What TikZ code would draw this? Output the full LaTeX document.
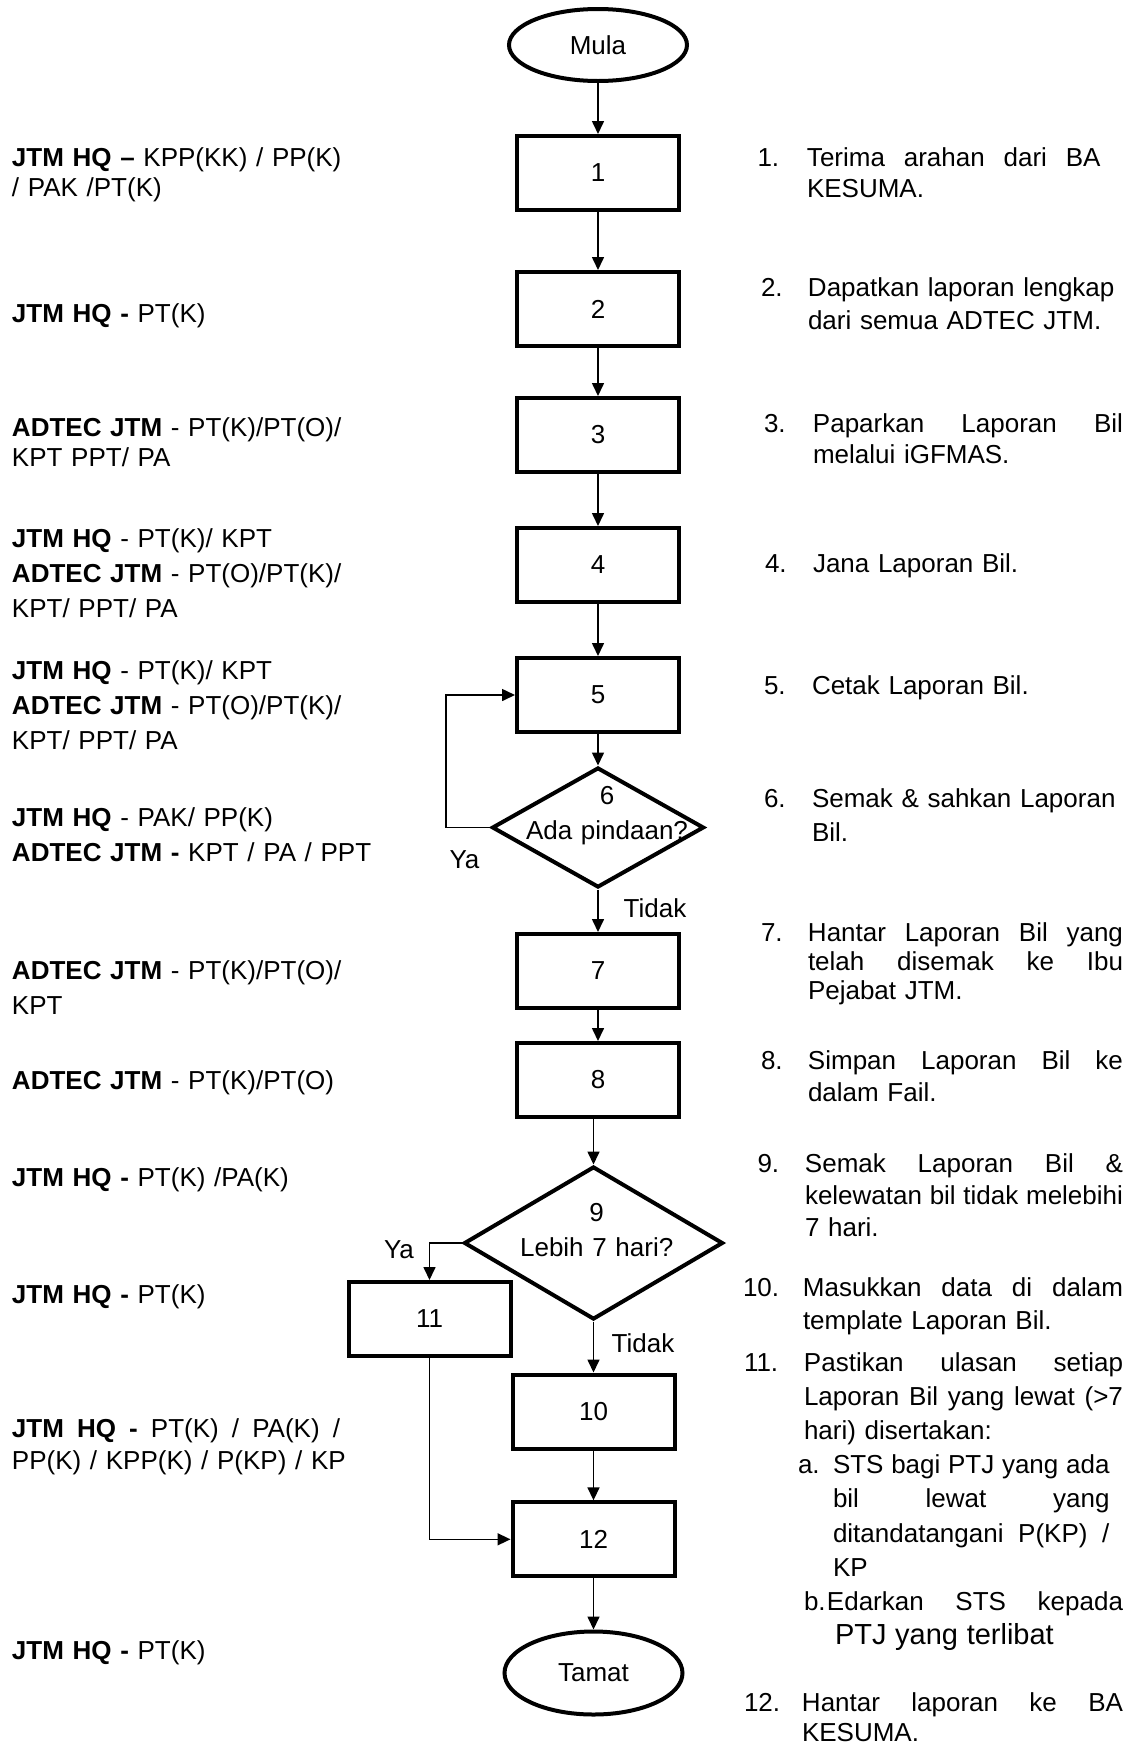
\documentclass[tikz,border=0pt]{standalone}
\usepackage{fontspec}
\setmainfont{Liberation Sans}
\usetikzlibrary{arrows.meta,shapes.geometric}
\newcommand\stepno[2]{\leavevmode\llap{\makebox[#2pt][l]{#1}}}
\newcommand\fullline[1]{\leavevmode\hbox to \linewidth{#1}}
\newcommand\wline[2]{\leavevmode\hbox to #1pt{#2}}
\begin{document}
\begin{tikzpicture}[x=1pt,y=-1pt,
  every node/.style={inner sep=0pt, outer sep=0pt},
  box/.style={draw, line width=4pt, outer sep=2pt, minimum width=162pt, minimum height=74pt, font=\fontsize{26}{31}\selectfont},
  term/.style={draw, ellipse, line width=4pt, outer sep=2pt, minimum width=178pt, font=\fontsize{26}{31}\selectfont},
  dec/.style={draw, diamond, line width=4pt, outer sep=2pt},
  arr/.style={line width=1.6pt, -{Triangle[length=13pt,width=12pt]}},
  lbl/.style={font=\fontsize{26}{31}\selectfont},
  dtext/.style={anchor=base, text width=220pt, align=center, font=\fontsize{26}{35}\selectfont},
  rtext/.style 2 args={anchor=base west, text width=#1pt, align=left, font=\fontsize{26}{#2}\selectfont},
  ltext/.style={anchor=base west, text width=380pt, align=left, font=\fontsize{26}{#1}\selectfont}
]
\path[use as bounding box] (0,0) rectangle (1134,1746);

% flow nodes
\node[term, minimum height=72pt] (mula) at (598,45) {Mula};
\node[box] (b1) at (598,173) {1};
\node[box] (b2) at (598,309) {2};
\node[box] (b3) at (598,435) {3};
\node[box] (b4) at (598,565) {4};
\node[box] (b5) at (598,695) {5};
\node[dec, minimum width=212pt, minimum height=120pt] (d6) at (598,827.5) {};
\node[box] (b7) at (598,971) {7};
\node[box] (b8) at (598,1080) {8};
\node[dec, minimum width=259pt, minimum height=153pt] (d9) at (593.5,1243) {};
\node[box] (b11) at (429.5,1319) {11};
\node[box] (b10) at (593.5,1411.5) {10};
\node[box] (b12) at (593.5,1539.3) {12};
\node[term, minimum height=83pt] (tamat) at (593.5,1673) {Tamat};

\node[dtext] (t6) at (607,804.3) {6\\Ada pindaan?};
\node[dtext] (t9) at (596.7,1221) {9\\Lebih 7 hari?};

% connectors
\draw[arr] (mula) -- (b1);
\draw[arr] (b1) -- (b2);
\draw[arr] (b2) -- (b3);
\draw[arr] (b3) -- (b4);
\draw[arr] (b4) -- (b5);
\draw[arr] (b5) -- (d6);
\draw[arr] (d6.west) -- ++(-44,0) |- (b5.west);
\draw[arr] (d6) -- (b7);
\draw[arr] (b7) -- (b8);
\draw[arr] (b8.south -| d9.north) -- (d9.north);
\draw[arr] (d9.west) -| (b11.north);
\draw[arr] (d9) -- (b10);
\draw[arr] (b10) -- (b12);
\draw[arr] (b11.south) |- (b12.west);
\draw[arr] (b12) -- (tamat);

\node[lbl] (ya6) at (464.5,860) {Ya};
\node[lbl] (tidak6) at (655,908) {Tidak};
\node[lbl] (ya9) at (399,1250) {Ya};
\node[lbl] (tidak9) at (643,1343) {Tidak};

% left column
\node[ltext=30.5] (l1) at (12,166) {\textbf{JTM HQ –} KPP(KK) / PP(K)\\/ PAK /PT(K)};
\node[ltext=31] (l2) at (12,322.3) {\textbf{JTM HQ -} PT(K)};
\node[ltext=30] (l3) at (12,436) {\textbf{ADTEC JTM} - PT(K)/PT(O)/\\KPT PPT/ PA};
\node[ltext=35] (l4) at (12,547.6) {\textbf{JTM HQ} - PT(K)/ KPT\\\textbf{ADTEC JTM} - PT(O)/PT(K)/\\KPT/ PPT/ PA};
\node[ltext=35] (l5) at (12,679.3) {\textbf{JTM HQ} - PT(K)/ KPT\\\textbf{ADTEC JTM} - PT(O)/PT(K)/\\KPT/ PPT/ PA};
\node[ltext=35] (l6) at (12,826) {\textbf{JTM HQ} - PAK/ PP(K)\\\textbf{ADTEC JTM -} KPT / PA / PPT};
\node[ltext=35] (l7) at (12,979.3) {\textbf{ADTEC JTM} - PT(K)/PT(O)/\\KPT};
\node[ltext=31] (l8) at (12,1089.3) {\textbf{ADTEC JTM} - PT(K)/PT(O)};
\node[ltext=31] (l9) at (12,1186) {\textbf{JTM HQ -} PT(K) /PA(K)};
\node[ltext=31] (l10) at (12,1303.3) {\textbf{JTM HQ -} PT(K)};
\node[ltext=32] (l11) at (12,1437.3) {\wline{328}{\textbf{JTM}\hfill\textbf{HQ}\hfill\textbf{-}\hfill PT(K)\hfill /\hfill PA(K)\hfill /}\\PP(K) / KPP(K) / P(KP) / KP};
\node[ltext=31] (l12) at (12,1659.3) {\textbf{JTM HQ -} PT(K)};

% right column
\node[rtext={293.6}{31.6}] (r1) at (807,166) {\stepno{1.}{49.5}\fullline{Terima\hfill arahan\hfill dari\hfill BA}\\KESUMA.};
\node[rtext={315}{33.3}] (r2) at (808,296) {\stepno{2.}{47}Dapatkan laporan lengkap\\dari semua ADTEC JTM.};
\node[rtext={310}{31}] (r3) at (813,432.3) {\stepno{3.}{49}\fullline{Paparkan\hfill Laporan\hfill Bil}\\melalui iGFMAS.};
\node[rtext={310}{31}] (r4) at (813,572.6) {\stepno{4.}{48}Jana Laporan Bil.};
\node[rtext={311}{31}] (r5) at (812,694.3) {\stepno{5.}{48}Cetak Laporan Bil.};
\node[rtext={311}{33.4}] (r6) at (812,807.6) {\stepno{6.}{48}Semak \& sahkan Laporan\\Bil.};
\node[rtext={315}{29.2}] (r7) at (808,941) {\stepno{7.}{47}\fullline{Hantar\hfill Laporan\hfill Bil\hfill yang}\\\fullline{telah\hfill disemak\hfill ke\hfill Ibu}\\Pejabat JTM.};
\node[rtext={315}{31.7}] (r8) at (808,1069.3) {\stepno{8.}{47}\fullline{Simpan\hfill Laporan\hfill Bil\hfill ke}\\dalam Fail.};
\node[rtext={318}{31.7}] (r9) at (805,1172.6) {\stepno{9.}{47.5}\fullline{Semak\hfill Laporan\hfill Bil\hfill \&}\\\fullline{kelewatan\hfill bil\hfill tidak\hfill melebihi}\\7 hari.};
\node[rtext={320}{33.3}] (r10) at (803,1296) {\stepno{10.}{60}\fullline{Masukkan\hfill data\hfill di\hfill dalam}\\template Laporan Bil.};
\node[rtext={319}{34.2}] (r11) at (804,1371) {\stepno{11.}{60}\fullline{Pastikan\hfill ulasan\hfill setiap}\\\fullline{Laporan\hfill Bil\hfill yang\hfill lewat\hfill (>7}\\hari) disertakan:\\\hspace*{-6pt}\makebox[35pt][l]{a.}\wline{276.5}{STS\hfill bagi\hfill PTJ\hfill yang\hfill ada}\\\hspace*{29pt}\wline{276.5}{bil\hfill lewat\hfill yang}\\\hspace*{29pt}\wline{276.5}{ditandatangani\hfill P(KP)\hfill /}\\\hspace*{29pt}KP\\\makebox[23pt][l]{b.}\wline{296}{Edarkan\hfill STS\hfill kepada}\\\hspace*{31pt}{\fontsize{29}{34.2}\selectfont PTJ yang terlibat}};
\node[rtext={321}{30}] (r12) at (802,1711) {\stepno{12.}{58}\fullline{Hantar\hfill laporan\hfill ke\hfill BA}\\KESUMA.};
\end{tikzpicture}
\end{document}
